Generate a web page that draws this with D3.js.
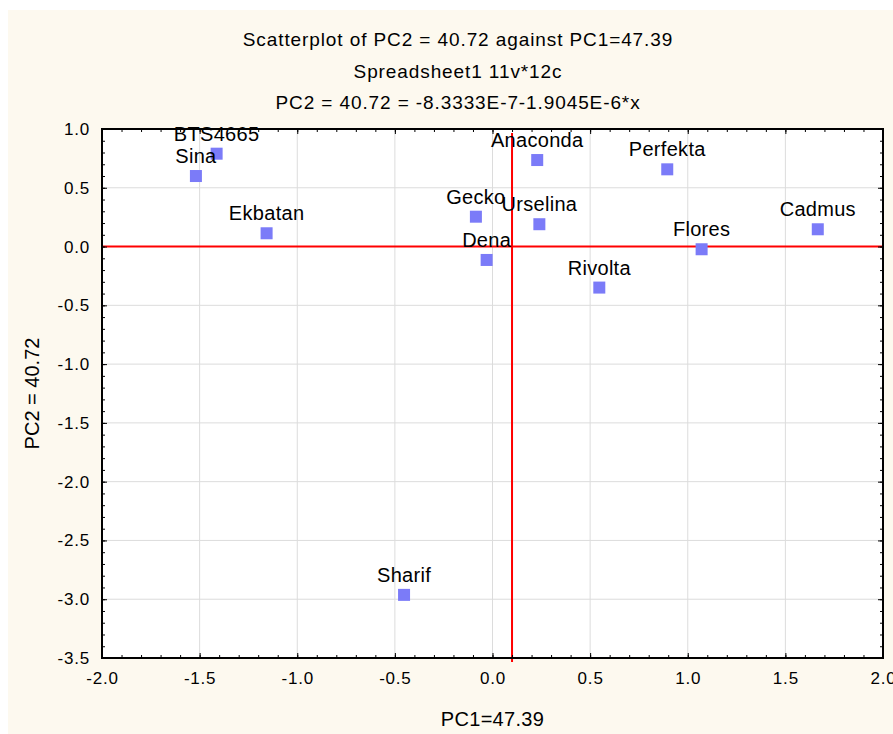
<!DOCTYPE html>
<html>
<head>
  <meta charset="utf-8">
  <title>Scatterplot of PC2 against PC1</title>
  <style>
    body {margin: 0; background: #fff;}
    svg  {font-family: Arial, "Liberation Sans", sans-serif; display: block;}
    .tick-label {font-size: 17px; letter-spacing: 0.8px;}
  </style>
</head>
<body>
  <script src="https://d3js.org/d3.v7.min.js"></script>
  <svg width="893" height="734"></svg>

  <script>

    // cultivar names and their scores
    var names = ["BTS4665", "Sina", "Ekbatan", "Anaconda", "Perfekta", "Gecko",
                 "Urselina", "Dena", "Rivolta", "Flores", "Cadmus", "Sharif"];
    var pc1 = [-1.413, -1.519, -1.157, 0.229, 0.895, -0.085,
               0.240, -0.030, 0.547, 1.071, 1.666, -0.453];
    var pc2 = [0.79, 0.60, 0.113, 0.736, 0.657, 0.254,
               0.19, -0.114, -0.349, -0.023, 0.147, -2.963];

    var xTicks = [-2.0, -1.5, -1.0, -0.5, 0.0, 0.5, 1.0, 1.5, 2.0];
    var yTicks = [1.0, 0.5, 0.0, -0.5, -1.0, -1.5, -2.0, -2.5, -3.0, -3.5];
    var titles = ["Scatterplot of PC2 = 40.72 against PC1=47.39",
                  "Spreadsheet1 11v*12c",
                  "PC2 = 40.72 = -8.3333E-7-1.9045E-6*x"];
    var refX = 0.1, refY = 0.0;

    var svg = d3.select("svg");

    // cream background
    svg.append("rect")
      .attr("x", 8).attr("y", 10)
      .attr("width", 885).attr("height", 724)
      .attr("fill", "#fdf9ef");

    var pLeft = 102, pRight = 883, pTop = 129, pBottom = 658;

    var x = d3.scaleLinear().domain([-2, 2]).range([pLeft, pRight]);
    var y = d3.scaleLinear().domain([-3.5, 1]).range([pBottom, pTop]);
    var fmt = d => d.toFixed(1);

    // plot area
    svg.append("rect")
      .attr("x", pLeft).attr("y", pTop)
      .attr("width", pRight - pLeft).attr("height", pBottom - pTop)
      .attr("fill", "#fff");

    // grid
    svg.append("g").selectAll("line").data(xTicks).join("line")
      .attr("x1", d => x(d)).attr("x2", d => x(d))
      .attr("y1", pTop).attr("y2", pBottom)
      .attr("stroke", "#dcdcdc").attr("stroke-width", 1);
    svg.append("g").selectAll("line").data(yTicks).join("line")
      .attr("x1", pLeft).attr("x2", pRight)
      .attr("y1", d => y(d)).attr("y2", d => y(d))
      .attr("stroke", "#dcdcdc").attr("stroke-width", 1);

    // reference lines
    svg.append("line")
      .attr("x1", pLeft).attr("x2", pRight)
      .attr("y1", y(refY)).attr("y2", y(refY))
      .attr("stroke", "#ff0000").attr("stroke-width", 2);
    svg.append("line")
      .attr("x1", x(refX)).attr("x2", x(refX))
      .attr("y1", pTop + 4).attr("y2", pBottom + 4)
      .attr("stroke", "#ff0000").attr("stroke-width", 2);

    // axes with inward ticks, minor every 0.1
    var xMinor = d3.range(-20, 21).map(d => d / 10);
    var yMinor = d3.range(-35, 11).map(d => d / 10);

    svg.append("g")
      .attr("transform", "translate(0," + pBottom + ")")
      .call(d3.axisBottom(x).tickValues(xMinor).tickSize(-3).tickFormat(""))
      .call(g => g.select(".domain").remove());
    svg.append("g")
      .attr("transform", "translate(0," + pTop + ")")
      .call(d3.axisTop(x).tickValues(xMinor).tickSize(-3).tickFormat(""))
      .call(g => g.select(".domain").remove());
    svg.append("g")
      .attr("transform", "translate(" + pLeft + ",0)")
      .call(d3.axisLeft(y).tickValues(yMinor).tickSize(-3).tickFormat(""))
      .call(g => g.select(".domain").remove());
    svg.append("g")
      .attr("transform", "translate(" + pRight + ",0)")
      .call(d3.axisRight(y).tickValues(yMinor).tickSize(-3).tickFormat(""))
      .call(g => g.select(".domain").remove());

    var xAxis = svg.append("g")
      .attr("transform", "translate(0," + pBottom + ")")
      .call(d3.axisBottom(x).tickValues(xTicks).tickSize(-5).tickPadding(14)
        .tickFormat(fmt));
    xAxis.select(".domain").remove();
    xAxis.selectAll("text").attr("class", "tick-label").attr("fill", "#000");

    var yAxis = svg.append("g")
      .attr("transform", "translate(" + pLeft + ",0)")
      .call(d3.axisLeft(y).tickValues(yTicks).tickSize(-5).tickPadding(12)
        .tickFormat(fmt));
    yAxis.select(".domain").remove();
    yAxis.selectAll("text").attr("class", "tick-label").attr("fill", "#000");

    svg.append("g")
      .attr("transform", "translate(" + pRight + ",0)")
      .call(d3.axisRight(y).tickValues(yTicks).tickSize(-5).tickFormat(""))
      .call(g => g.select(".domain").remove());
    svg.append("g")
      .attr("transform", "translate(0," + pTop + ")")
      .call(d3.axisTop(x).tickValues(xTicks).tickSize(-5).tickFormat(""))
      .call(g => g.select(".domain").remove());

    svg.selectAll(".tick line").attr("stroke", "#000");

    // frame
    svg.append("rect")
      .attr("x", pLeft).attr("y", pTop)
      .attr("width", pRight - pLeft).attr("height", pBottom - pTop)
      .attr("fill", "none").attr("stroke", "#000").attr("stroke-width", 2);

    // points and labels
    var pts = names.map((n, i) => ({name: n, x: pc1[i], y: pc2[i]}));
    svg.append("g").selectAll("rect").data(pts).join("rect")
      .attr("x", d => x(d.x) - 6).attr("y", d => y(d.y) - 6)
      .attr("width", 12).attr("height", 12)
      .attr("fill", "#7b7bf8");
    svg.append("g").selectAll("text").data(pts).join("text")
      .attr("x", d => x(d.x)).attr("y", d => y(d.y) - 13)
      .attr("text-anchor", "middle")
      .style("font-size", "20px").style("letter-spacing", "0.3px")
      .text(d => d.name);

    // titles
    svg.append("g").selectAll("text").data(titles).join("text")
      .attr("x", 458).attr("y", (d, i) => 46 + i * 31.5)
      .attr("text-anchor", "middle")
      .style("font-size", "19px").style("letter-spacing", "0.9px")
      .text(d => d);

    svg.append("text")
      .attr("x", (pLeft + pRight) / 2).attr("y", 726)
      .attr("text-anchor", "middle")
      .style("font-size", "20px").style("letter-spacing", "0.3px")
      .text("PC1=47.39");

    svg.append("text")
      .attr("transform", "translate(39," + ((pTop + pBottom) / 2) + ") rotate(-90)")
      .attr("text-anchor", "middle")
      .style("font-size", "20px")
      .text("PC2 = 40.72");

  </script>
</body>
</html>
